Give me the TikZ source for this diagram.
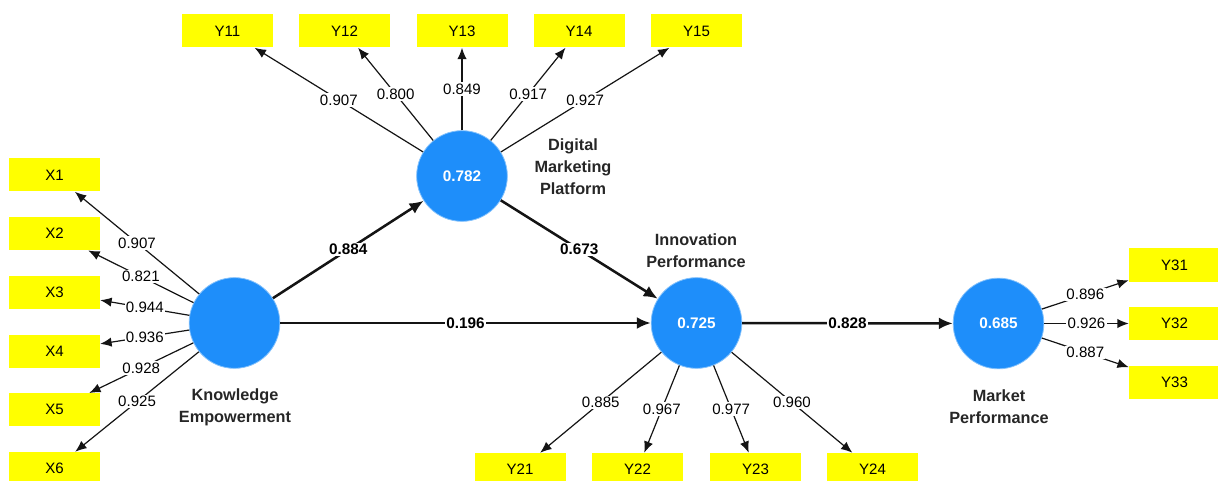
\documentclass[tikz,border=0pt]{standalone}
\usepackage{fontspec}
\setmainfont{Liberation Sans}
\usepackage{tikz}
\usetikzlibrary{arrows.meta}
\definecolor{lvblue}{RGB}{30, 142, 250}
\definecolor{indyellow}{RGB}{255, 255, 0}
\definecolor{linkink}{RGB}{20, 20, 20}

\begin{document}
\begin{tikzpicture}[x=0.75pt, y=-0.75pt,
  indbox/.style={fill=indyellow, minimum width=68.25pt, minimum height=24.75pt, inner sep=0pt, font=\fontsize{11.3}{13}\selectfont},
  lvcirc/.style={circle, fill=lvblue, draw=lvblue!55, line width=0.6pt, minimum size=68pt, inner sep=0pt, text=white, font=\bfseries\fontsize{11.5}{13}\selectfont},
  lvname/.style={align=center, text=black!85, font=\bfseries\fontsize{12.2}{16.5}\selectfont},
  load/.style={linkink, line width=0.9pt, -{Latex[length=8.5pt, width=7pt]}},
  struct/.style={linkink, line width=1.9pt, -{Latex[length=10.5pt, width=9pt]}},
  loadval/.style={midway, fill=white, inner sep=1pt, text=black, font=\fontsize{11.3}{13}\selectfont},
  pathval/.style={midway, fill=white, inner sep=1pt, text=black, font=\bfseries\fontsize{11.5}{13}\selectfont}]
  \useasboundingbox (0,0) rectangle (1218,481);
  \node[lvcirc] (ke) at (234.5,323) {};
  \node[lvcirc] (dmp) at (462,176) {0.782};
  \node[lvcirc] (ip) at (696.5,323) {0.725};
  \node[lvcirc] (mp) at (998.5,323.5) {0.685};
  \node[lvname] (kename) at (235,407.5) {Knowledge\\Empowerment};
  \node[lvname] (dmpname) at (573,167) {Digital\\Marketing\\Platform};
  \node[lvname] (ipname) at (696,251) {Innovation\\Performance};
  \node[lvname] (mpname) at (999,407) {Market\\Performance};
  \node[indbox] (x1) at (54.5,175) {X1};
  \node[indbox] (x2) at (54.5,233.7) {X2};
  \node[indbox] (x3) at (54.5,292.4) {X3};
  \node[indbox] (x4) at (54.5,351) {X4};
  \node[indbox] (x5) at (54.5,409.8) {X5};
  \node[indbox] (x6) at (54.5,468.5) {X6};
  \node[indbox] (y11) at (227.5,31) {Y11};
  \node[indbox] (y12) at (344.5,31) {Y12};
  \node[indbox] (y13) at (462,31) {Y13};
  \node[indbox] (y14) at (579,31) {Y14};
  \node[indbox] (y15) at (696.5,31) {Y15};
  \node[indbox] (y21) at (520,469.5) {Y21};
  \node[indbox] (y22) at (637.5,469.5) {Y22};
  \node[indbox] (y23) at (755.5,469.5) {Y23};
  \node[indbox] (y24) at (872.5,469.5) {Y24};
  \node[indbox] (y31) at (1174.5,265) {Y31};
  \node[indbox] (y32) at (1174.5,323.5) {Y32};
  \node[indbox] (y33) at (1174.5,382.5) {Y33};
  \draw[load] (ke) -- (x1) node[loadval] {0.907};
  \draw[load] (ke) -- (x2) node[loadval] {0.821};
  \draw[load] (ke) -- (x3) node[loadval] {0.944};
  \draw[load] (ke) -- (x4) node[loadval] {0.936};
  \draw[load] (ke) -- (x5) node[loadval] {0.928};
  \draw[load] (ke) -- (x6) node[loadval] {0.925};
  \draw[load] (dmp) -- (y11) node[loadval] {0.907};
  \draw[load] (dmp) -- (y12) node[loadval] {0.800};
  \draw[load] (dmp) -- (y13) node[loadval] {0.849};
  \draw[load] (dmp) -- (y14) node[loadval] {0.917};
  \draw[load] (dmp) -- (y15) node[loadval] {0.927};
  \draw[load] (ip) -- (y21) node[loadval] {0.885};
  \draw[load] (ip) -- (y22) node[loadval] {0.967};
  \draw[load] (ip) -- (y23) node[loadval] {0.977};
  \draw[load] (ip) -- (y24) node[loadval] {0.960};
  \draw[load] (mp) -- (y31) node[loadval] {0.896};
  \draw[load] (mp) -- (y32) node[loadval] {0.926};
  \draw[load] (mp) -- (y33) node[loadval] {0.887};
  \draw[struct] (ke) -- (dmp) node[pathval] {0.884};
  \draw[struct] (dmp) -- (ip) node[pathval] {0.673};
  \draw[struct] (ke) -- (ip) node[pathval] {0.196};
  \draw[struct] (ip) -- (mp) node[pathval] {0.828};
\end{tikzpicture}
\end{document}
